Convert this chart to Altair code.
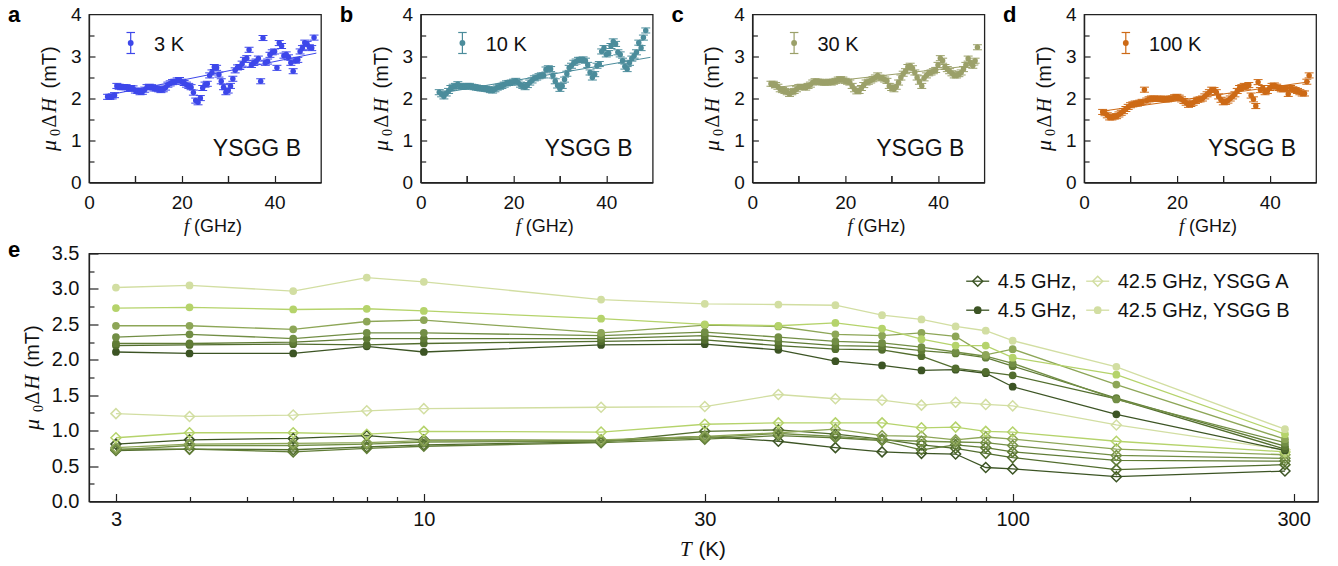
import altair as alt
import pandas as pd

# ---------------- top panels (a-d): linewidth vs frequency ----------------
F_GRID = [4.0 + 0.5 * i for i in range(90)]   # measured frequencies (GHz)

DH_3K = [2.04, 2.04, 2.05, 2.08, 2.30, 2.28, 2.27, 2.27, 2.27, 2.23,
         2.25, 2.24, 2.19, 2.18, 2.15, 2.16, 2.21, 2.27, 2.28, 2.27,
         2.24, 2.24, 2.22, 2.20, 2.22, 2.26, 2.33, 2.36, 2.39, 2.40,
         2.43, 2.44, 2.40, 2.37, 2.33, 2.30, 2.27, 2.14, 1.95, 1.91,
         2.01, 2.25, 2.33, 2.35, 2.55, 2.62, 2.75, 2.73, 2.57, 2.41,
         2.27, 2.15, 2.19, 2.30, 2.47, 2.67, 2.74, 2.75, 2.83, 2.92,
         2.96, 3.16, 2.80, 2.85, 2.88, 2.95, 2.41, 3.44, 2.85, 2.88,
         3.04, 3.10, 3.12, 2.73, 3.32, 3.25, 3.02, 3.05, 2.98, 2.85,
         2.65, 2.90, 2.92, 3.12, 3.20, 3.33, 3.30, 3.22, 3.20, 3.45]
DH_10K = [2.15, 2.10, 2.05, 2.12, 2.18, 2.25, 2.28, 2.30, 2.34, 2.30,
          2.28, 2.28, 2.30, 2.30, 2.28, 2.27, 2.26, 2.25, 2.24, 2.24,
          2.23, 2.22, 2.20, 2.19, 2.22, 2.26, 2.28, 2.30, 2.33, 2.36,
          2.37, 2.38, 2.40, 2.42, 2.38, 2.33, 2.30, 2.27, 2.32, 2.38,
          2.43, 2.48, 2.50, 2.53, 2.55, 2.55, 2.69, 2.72, 2.70, 2.55,
          2.41, 2.31, 2.23, 2.30, 2.45, 2.59, 2.73, 2.78, 2.85, 2.88,
          2.92, 2.92, 2.93, 2.90, 2.80, 2.62, 2.50, 2.58, 2.78, 2.82,
          3.12, 3.20, 3.05, 3.08, 3.25, 3.36, 3.30, 3.10, 3.05, 2.90,
          2.76, 2.70, 2.85, 2.95, 3.02, 3.10, 3.33, 3.20, 3.45, 3.62]
DH_30K = [2.35, 2.35, 2.32, 2.28, 2.22, 2.20, 2.18, 2.15, 2.11, 2.15,
          2.18, 2.22, 2.27, 2.28, 2.27, 2.26, 2.30, 2.33, 2.38, 2.41,
          2.40, 2.40, 2.38, 2.38, 2.38, 2.40, 2.38, 2.40, 2.42, 2.45,
          2.46, 2.45, 2.42, 2.40, 2.38, 2.30, 2.22, 2.17, 2.18, 2.25,
          2.32, 2.38, 2.40, 2.43, 2.46, 2.50, 2.55, 2.50, 2.48, 2.45,
          2.42, 2.30, 2.25, 2.22, 2.28, 2.38, 2.50, 2.59, 2.65, 2.75,
          2.78, 2.72, 2.62, 2.50, 2.40, 2.30, 2.48, 2.55, 2.60, 2.62,
          2.65, 2.68, 2.80, 2.96, 2.90, 2.75, 2.70, 2.65, 2.60, 2.55,
          2.55, 2.58, 2.62, 2.70, 2.80, 2.95, 2.85, 2.78, 2.90, 3.22]
DH_100K = [1.68, 1.65, 1.60, 1.55, 1.55, 1.57, 1.58, 1.62, 1.66, 1.70,
           1.75, 1.80, 1.84, 1.86, 1.88, 1.88, 1.90, 1.92, 2.21, 1.95,
           1.98, 2.00, 2.00, 1.99, 1.99, 2.00, 1.99, 1.98, 1.98, 2.00,
           2.00, 2.03, 2.04, 2.02, 1.98, 1.94, 1.90, 1.85, 1.87, 1.90,
           1.94, 1.97, 1.98, 2.00, 2.05, 2.10, 2.15, 2.21, 2.20, 2.15,
           2.05, 1.97, 1.91, 1.92, 1.95, 2.00, 2.05, 2.10, 2.18, 2.25,
           2.27, 2.30, 2.28, 2.32, 2.07, 1.98, 1.82, 2.39, 2.20, 2.25,
           2.15, 2.18, 2.25, 2.30, 2.31, 2.28, 2.25, 2.22, 2.22, 2.25,
           2.11, 2.25, 2.22, 2.20, 2.18, 2.15, 2.12, 2.12, 2.40, 2.55]
ERR = 0.06  # error bar half-height (mT)

# linear fits: end points (f, dH)
FIT_3K = ([3.6, 49.0], [2.07, 3.08])
FIT_10K = ([4.0, 49.5], [2.12, 2.98])
FIT_30K = ([4.0, 48.7], [2.25, 2.80])
FIT_100K = ([4.0, 48.7], [1.70, 2.40])

TOP_COLORS = ["#3d47ea", "#4b8c9b", "#9ba069", "#cd6a16"]
TOP_TEMPS = ["3 K", "10 K", "30 K", "100 K"]
TOP_LETTERS = ["a", "b", "c", "d"]

# ---------------- bottom panel (e): linewidth vs temperature ----------------
TEMPS = [3, 4, 6, 8, 10, 20, 30, 40, 50, 60, 70, 80, 90, 100, 150, 290]
FREQS = ["4.5 GHz", "10.5 GHz", "16.5 GHz", "22.5 GHz", "28.5 GHz", "36.5 GHz", "42.5 GHz"]
FREQ_COLORS = ["#3c5424", "#526d2e", "#607c36", "#728e45", "#8da657", "#b5d36b", "#d2dea2"]

A_1 = [0.81, 0.87, 0.89, 0.93, 0.87, 0.86, 0.92, 0.85, 0.76, 0.70, 0.68, 0.67, 0.48, 0.46, 0.35, 0.43]
A_2 = [0.72, 0.74, 0.73, 0.77, 0.80, 0.84, 0.99, 1.01, 0.95, 0.88, 0.80, 0.75, 0.68, 0.62, 0.45, 0.52]
A_3 = [0.74, 0.74, 0.70, 0.75, 0.78, 0.83, 0.88, 0.93, 0.90, 0.86, 0.73, 0.80, 0.76, 0.70, 0.58, 0.57]
A_4 = [0.73, 0.79, 0.79, 0.81, 0.84, 0.85, 0.90, 0.96, 0.92, 0.87, 0.85, 0.84, 0.83, 0.79, 0.65, 0.61]
A_5 = [0.76, 0.81, 0.82, 0.83, 0.86, 0.87, 0.92, 0.97, 1.02, 0.93, 0.92, 0.87, 0.91, 0.88, 0.74, 0.66]
A_6 = [0.90, 0.97, 0.97, 0.95, 0.99, 0.98, 1.09, 1.11, 1.11, 1.11, 1.04, 1.05, 0.99, 0.98, 0.85, 0.70]
A_7 = [1.24, 1.20, 1.22, 1.28, 1.31, 1.33, 1.34, 1.51, 1.45, 1.43, 1.36, 1.40, 1.37, 1.35, 1.08, 0.73]

B_1 = [2.11, 2.09, 2.09, 2.19, 2.11, 2.21, 2.22, 2.14, 1.98, 1.92, 1.85, 1.86, 1.81, 1.62, 1.23, 0.72]
B_2 = [2.20, 2.21, 2.22, 2.21, 2.23, 2.26, 2.28, 2.20, 2.15, 2.14, 2.05, 1.88, 1.83, 1.78, 1.45, 0.74]
B_3 = [2.23, 2.23, 2.25, 2.30, 2.30, 2.30, 2.34, 2.26, 2.20, 2.19, 2.13, 2.09, 2.03, 1.91, 1.46, 0.78]
B_4 = [2.32, 2.36, 2.30, 2.38, 2.38, 2.34, 2.39, 2.32, 2.26, 2.24, 2.18, 2.11, 2.05, 1.95, 1.44, 0.83]
B_5 = [2.48, 2.48, 2.43, 2.54, 2.56, 2.38, 2.49, 2.47, 2.36, 2.34, 2.38, 2.33, 2.07, 2.15, 1.65, 0.88]
B_6 = [2.73, 2.74, 2.71, 2.72, 2.69, 2.58, 2.50, 2.48, 2.52, 2.44, 2.29, 2.20, 2.20, 2.03, 1.79, 0.95]
B_7 = [3.02, 3.05, 2.97, 3.16, 3.10, 2.85, 2.79, 2.78, 2.77, 2.63, 2.57, 2.47, 2.41, 2.27, 1.90, 1.02]

A_SERIES = [A_1, A_2, A_3, A_4, A_5, A_6, A_7]
B_SERIES = [B_1, B_2, B_3, B_4, B_5, B_6, B_7]

# axis-title pieces: (text, font, italic, size)
Y_TITLE = [("μ", "Liberation Serif", True, 22), ("0", "Liberation Serif", False, 14),
           ("Δ", "Liberation Serif", False, 20), ("H", "Liberation Serif", True, 20),
           ("(mT)", "Liberation Sans", False, 20)]
F_TITLE = [("f", "Liberation Serif", True, 19), ("(GHz)", "Liberation Sans", False, 18)]
T_TITLE = [("T", "Liberation Serif", True, 21), ("(K)", "Liberation Sans", False, 20.5)]

FONT = "Liberation Sans"
AXC = "#222222"
TXT = "#111111"


def inward(n):
    return {"expr": str(-n)}


def tick_axis(vals, orient, size):
    return alt.Axis(values=vals, labels=False, domain=False, title=None, orient=orient,
                    tickSize=inward(size), grid=False)


def guide_layer(df, xf, yf, xs, ys, xaxis, yaxis):
    # invisible layer that only carries an axis (shared scales, independent axes)
    return alt.Chart(df).mark_point(opacity=0).encode(
        x=alt.X(xf, scale=xs, axis=xaxis), y=alt.Y(yf, scale=ys, axis=yaxis))


def label_axis(vals, fmt, orient, lsize, lpad):
    return alt.Axis(values=vals, format=fmt, title=None, orient=orient, ticks=False,
                    labelPadding=lpad, labelFontSize=lsize,
                    labelFlush=False, labelOverlap=False, grid=False)


def text_piece(txt, font, italic, size, x, y, angle=0):
    kw = dict(align="left", baseline="alphabetic", font=font, fontSize=size, color=TXT,
              fontStyle="italic" if italic else "normal")
    if angle:
        kw["angle"] = angle
    return alt.Chart(pd.DataFrame({"t": [txt]})).mark_text(**kw).encode(
        x=alt.value(x), y=alt.value(y), text="t:N")


def y_title(xb, ys_list):
    out = []
    for (txt, font, it, size), yy in zip(Y_TITLE, ys_list):
        xx = xb + 4 if txt == "0" else xb
        out.append(text_piece(txt, font, it, size, xx, yy, angle=270))
    return out


def x_title(pieces, xs_list, yb):
    return [text_piece(t, f, it, s, xx, yb) for (t, f, it, s), xx in zip(pieces, xs_list)]


def top_panel(vals, color, temp, fit, letter):
    df = pd.DataFrame({"f": F_GRID, "dH": vals})
    df["lo"] = df["dH"] - ERR
    df["hi"] = df["dH"] + ERR
    xs = alt.Scale(domain=[0, 50], nice=False, zero=False)
    ys = alt.Scale(domain=[0, 4], nice=False)
    Xn = alt.X("f:Q", scale=xs, axis=None)
    base = alt.Chart(df)
    bars = base.mark_rule(color=color, strokeWidth=1).encode(
        x=Xn, y=alt.Y("lo:Q", scale=ys, axis=None), y2="hi:Q")
    cap_lo = base.mark_tick(orient="horizontal", size=9, thickness=1, color=color, opacity=1).encode(
        x=Xn, y=alt.Y("lo:Q", scale=ys, axis=None))
    cap_hi = base.mark_tick(orient="horizontal", size=9, thickness=1, color=color, opacity=1).encode(
        x=Xn, y=alt.Y("hi:Q", scale=ys, axis=None))
    pts = base.mark_circle(size=30, color=color, opacity=1).encode(
        x=Xn, y=alt.Y("dH:Q", scale=ys, axis=None))
    fit_df = pd.DataFrame({"f": fit[0], "dH": fit[1]})
    fit_line = alt.Chart(fit_df).mark_line(color=color, strokeWidth=1).encode(
        x=Xn, y=alt.Y("dH:Q", scale=ys, axis=None))

    one = pd.DataFrame({"t": [temp]})
    leg_bar = alt.Chart(one).mark_rule(color=color, strokeWidth=1.2).encode(
        x=alt.value(41.7), y=alt.value(18), y2=alt.value(39))
    leg_c1 = alt.Chart(one).mark_rule(color=color, strokeWidth=1.2).encode(
        x=alt.value(37.5), x2=alt.value(46), y=alt.value(18))
    leg_c2 = alt.Chart(one).mark_rule(color=color, strokeWidth=1.2).encode(
        x=alt.value(37.5), x2=alt.value(46), y=alt.value(39))
    leg_pt = alt.Chart(one).mark_circle(size=34, color=color, opacity=1).encode(
        x=alt.value(41.7), y=alt.value(28.5))
    leg_txt = alt.Chart(one).mark_text(align="left", baseline="middle", fontSize=20, color=TXT).encode(
        x=alt.value(65), y=alt.value(30), text="t:N")
    samp = alt.Chart(pd.DataFrame({"t": ["YSGG B"]})).mark_text(
        align="right", baseline="alphabetic", fontSize=23, color=TXT).encode(
        x=alt.value(212), y=alt.value(141.7), text="t:N")
    let = alt.Chart(pd.DataFrame({"t": [letter]})).mark_text(
        align="left", baseline="top", fontSize=22, fontWeight="bold", color="#000").encode(
        x=alt.value(-81), y=alt.value(-9.5), text="t:N")
    titles = y_title(-33, [136.5, 121.5, 113, 98, 74]) + x_title(F_TITLE, [95, 105], 217)
    main = alt.layer(bars, cap_lo, cap_hi, fit_line, pts, leg_bar, leg_c1, leg_c2, leg_pt,
                     leg_txt, samp, let, *titles)
    g = df.head(1)
    labels = guide_layer(g, "f:Q", "dH:Q", xs, ys,
                         label_axis([0, 20, 40], "d", "bottom", 19, 11),
                         label_axis([0, 1, 2, 3, 4], "d", "left", 19, 8))
    ticks_major = guide_layer(g, "f:Q", "dH:Q", xs, ys, tick_axis([10, 20, 30, 40], "bottom", 7),
                              tick_axis([1, 2, 3], "left", 6))
    ticks_minor = guide_layer(g, "f:Q", "dH:Q", xs, ys, tick_axis([10, 30], "bottom", 7),
                              tick_axis([0.5, 1.5, 2.5, 3.5], "left", 5))
    return alt.layer(main, labels, ticks_major, ticks_minor).resolve_axis(
        x="independent", y="independent").properties(width=232, height=168)


panels = []
for vals, col, tmp, fit, letter in zip([DH_3K, DH_10K, DH_30K, DH_100K], TOP_COLORS, TOP_TEMPS,
                                       [FIT_3K, FIT_10K, FIT_30K, FIT_100K], TOP_LETTERS):
    panels.append(top_panel(vals, col, tmp, fit, letter))
top = alt.hconcat(*panels, spacing=99.7, bounds="flush")

# ---- panel e ----
rows = []
for sample, series in (("A", A_SERIES), ("B", B_SERIES)):
    for k, vals in enumerate(series):
        for T, v in zip(TEMPS, vals):
            rows.append({"T": T, "dH": v, "sample": sample, "fi": k, "sid": f"{sample}{k}"})
dfe = pd.DataFrame(rows)
dfA = dfe[dfe["sample"] == "A"]
dfB = dfe[dfe["sample"] == "B"]

xs_e = alt.Scale(type="log", domain=[2.7, 330], nice=False)
ys_e = alt.Scale(domain=[0, 3.5], nice=False)
col_e = alt.Color("fi:O", scale=alt.Scale(domain=list(range(7)), range=FREQ_COLORS), legend=None)
XE = alt.X("T:Q", scale=xs_e, axis=None)
YE = alt.Y("dH:Q", scale=ys_e, axis=None)

MAJ_T = [3, 10, 30, 100, 300]
MIN_T = [4, 5, 6, 7, 8, 9, 20, 40, 50, 60, 70, 80, 90, 200]
MAJ_Y = [0, 0.5, 1, 1.5, 2, 2.5, 3, 3.5]
MIN_Y = [0.25, 0.75, 1.25, 1.75, 2.25, 2.75, 3.25]

linesA = alt.Chart(dfA).mark_line(strokeWidth=1.3).encode(x=XE, y=YE, color=col_e, detail="sid:N")
ptsA = alt.Chart(dfA).mark_point(shape="diamond", filled=False, size=100, strokeWidth=1.5,
                                 opacity=1).encode(x=XE, y=YE, color=col_e)
linesB = alt.Chart(dfB).mark_line(strokeWidth=1.3).encode(x=XE, y=YE, color=col_e, detail="sid:N")
ptsB = alt.Chart(dfB).mark_circle(size=60, opacity=1).encode(x=XE, y=YE, color=col_e)

# legend for e (pixel positions within the plot area)
LEG_ROWS = [("4.5 GHz,", "42.5 GHz, YSGG A", "diamond", 27.7),
            ("4.5 GHz,", "42.5 GHz, YSGG B", "circle", 56.7)]
leg_layers = []
for t1, t2, shape, yy in LEG_ROWS:
    d = pd.DataFrame({"t1": [t1], "t2": [t2]})
    for xc, colr, key in ((888.7, FREQ_COLORS[0], "t1"), (1008.7, FREQ_COLORS[6], "t2")):
        leg_layers.append(alt.Chart(d).mark_rule(color=colr, strokeWidth=1.3).encode(
            x=alt.value(xc - 11.5), x2=alt.value(xc + 11.5), y=alt.value(yy)))
        if shape == "diamond":
            leg_layers.append(alt.Chart(d).mark_point(shape="diamond", filled=False, size=100,
                                                      strokeWidth=1.5, color=colr, opacity=1).encode(
                x=alt.value(xc), y=alt.value(yy)))
        else:
            leg_layers.append(alt.Chart(d).mark_circle(size=60, color=colr, opacity=1).encode(
                x=alt.value(xc), y=alt.value(yy)))
        leg_layers.append(alt.Chart(d).mark_text(align="left", baseline="middle", fontSize=20,
                                                 color=TXT).encode(
            x=alt.value(xc + 20), y=alt.value(yy + 1), text=f"{key}:N"))

let_e = alt.Chart(pd.DataFrame({"t": ["e"]})).mark_text(
    align="left", baseline="top", fontSize=22, fontWeight="bold", color="#000").encode(
    x=alt.value(-81), y=alt.value(-13.5), text="t:N")
titles_e = y_title(-50, [176.5, 158.5, 151, 136, 114]) + x_title(T_TITLE, [591, 609.5], 302.5)

main_e = alt.layer(linesA, ptsA, linesB, ptsB, *leg_layers, let_e, *titles_e)
ge = dfB.head(1)
labels_e = guide_layer(ge, "T:Q", "dH:Q", xs_e, ys_e,
                       label_axis(MAJ_T, "d", "bottom", 20, 7.5),
                       label_axis(MAJ_Y, ".1f", "left", 20, 10))
major_e = guide_layer(ge, "T:Q", "dH:Q", xs_e, ys_e, tick_axis(MAJ_T, "bottom", 8),
                      tick_axis(MAJ_Y[1:], "left", 9))
minor_e = guide_layer(ge, "T:Q", "dH:Q", xs_e, ys_e, tick_axis(MIN_T, "bottom", 5),
                      tick_axis(MIN_Y, "left", 5))
panel_e = alt.layer(main_e, labels_e, major_e, minor_e).resolve_axis(
    x="independent", y="independent").properties(width=1229, height=248)

chart = alt.vconcat(top, panel_e, spacing=1).properties(
    padding={"left": 7, "top": 2.5, "right": 5, "bottom": 5}
).configure(font=FONT).configure_view(stroke=AXC, strokeWidth=1.3).configure_axis(
    domainColor=AXC, domainWidth=1.3, tickColor=AXC, tickWidth=1.2,
    labelColor=TXT, titleColor=TXT, labelFont=FONT, titleFont=FONT, titleFontWeight="normal"
)

chart.save("out.html", embed_options={"renderer": "svg", "actions": False})
